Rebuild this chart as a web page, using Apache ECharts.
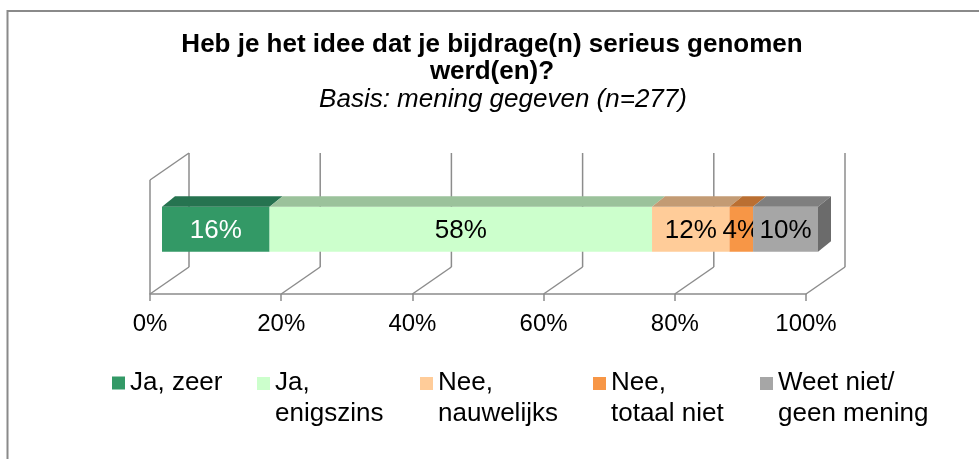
<!DOCTYPE html>
<html>
<head>
<meta charset="utf-8">
<script src="https://cdn.jsdelivr.net/npm/echarts@6/dist/echarts.min.js"></script>
<style>
  html, body { margin: 0; padding: 0; background: #fff; }
  #main { width: 979px; height: 459px; }
</style>
</head>
<body>
<div id="main"></div>
<script>
  // answer categories, in stacking / legend order
  const categories = ['Ja, zeer', 'Ja, enigszins', 'Nee, nauwelijks', 'Nee, totaal niet', 'Weet niet/ geen mening'];
  const legendLabels = ['Ja, zeer', 'Ja,\nenigszins', 'Nee,\nnauwelijks', 'Nee,\ntotaal niet', 'Weet niet/\ngeen mening'];
  // share of respondents in % (n=277)
  const shares = [16.4, 58.3, 11.8, 3.6, 9.9];
  // x axis ticks (%)
  const tickValues = [0, 20, 40, 60, 80, 100];

  // styling
  const FONT = '"Liberation Sans", Arial, sans-serif';
  const frontColors = ['#339966', '#ccffcc', '#ffcc99', '#f79646', '#a6a6a6'];
  const topColors = ['#267350', '#9bc29b', '#c39b74', '#ba6f32', '#7f7f7f'];
  const sideColor = '#6b6b6b';
  const labelColors = ['#fff', '#000', '#000', '#000', '#000'];
  const legendLeft = [112, 257, 420, 593, 760];
  const WALL = '#8c8c8c';

  // 3d projection (pixels)
  const DEPTH = [39, -27];       // floor depth vector
  const BAR_FRONT = [12, -8.3];  // bar front face offset from floor front
  const BAR_DEPTH = [13, -10.5]; // bar thickness
  const BAR_LOW = 0.298, BAR_HIGH = 0.693;

  let myChart = echarts.init(document.getElementById('main'));

  // cumulative stacking
  let starts = [];
  let acc = 0;
  shares.forEach(function (v) { starts.push(acc); acc += v; });

  function seg(a, b) {
    return {
      type: 'line',
      shape: { x1: a[0], y1: a[1], x2: b[0], y2: b[1] },
      style: { stroke: WALL, lineWidth: 1.5 },
    };
  }

  function wallItem(params, api) {
    let v = api.value(0);
    let f0 = api.coord([v, 0]);
    let f1 = api.coord([v, 1]);
    let b0 = [f0[0] + DEPTH[0], f0[1] + DEPTH[1]];
    let b1 = [f1[0] + DEPTH[0], f1[1] + DEPTH[1]];
    let children = [seg(f0, b0), seg(b0, b1)];
    if (params.dataIndex === 0) {
      children.push(seg(f0, f1), seg(f1, b1));
    }
    return { type: 'group', children: children };
  }

  function makeBar(i) {
    return function (params, api) {
      let s = api.coord([api.value(0), BAR_LOW]);
      let e = api.coord([api.value(1), BAR_HIGH]);
      let x0 = s[0] + BAR_FRONT[0], x1 = e[0] + BAR_FRONT[0];
      let yb = s[1] + BAR_FRONT[1], yt = e[1] + BAR_FRONT[1];
      let dx = BAR_DEPTH[0], dy = BAR_DEPTH[1];
      let children = [
        {
          type: 'rect',
          shape: { x: x0, y: yt, width: x1 - x0, height: yb - yt },
          style: { fill: frontColors[i] },
        },
        {
          type: 'polygon',
          shape: { points: [[x0, yt], [x1, yt], [x1 + dx, yt + dy], [x0 + dx, yt + dy]] },
          style: { fill: topColors[i] },
        },
      ];
      if (i === shares.length - 1) {
        children.push({
          type: 'polygon',
          shape: { points: [[x1, yt], [x1 + dx, yt + dy], [x1 + dx, yb + dy], [x1, yb]] },
          style: { fill: sideColor },
        });
      }
      children.push({
        type: 'text',
        x: (x0 + x1) / 2,
        y: (yt + yb) / 2 + 2,
        style: {
          text: Math.round(api.value(2)) + '%',
          fill: labelColors[i],
          fontSize: 26,
          fontFamily: FONT,
          align: 'center',
          verticalAlign: 'middle',
        },
      });
      return { type: 'group', children: children };
    };
  }

  let series = [
    {
      type: 'custom',
      name: 'walls',
      renderItem: wallItem,
      data: tickValues.map(function (v) { return [v]; }),
      z: 1,
      silent: true,
    },
  ];
  categories.forEach(function (name, i) {
    series.push({
      type: 'custom',
      name: name,
      renderItem: makeBar(i),
      data: [[starts[i], starts[i] + shares[i], shares[i]]],
      itemStyle: { color: frontColors[i] },
      z: 2,
    });
  });

  let option = {
    animation: false,
    title: [
      {
        text: 'Heb je het idee dat je bijdrage(n) serieus genomen\nwerd(en)?',
        left: 492,
        top: 31.5,
        textAlign: 'center',
        padding: 0,
        textStyle: { fontFamily: FONT, fontSize: 26, fontWeight: 'bold', color: '#000', lineHeight: 27 },
      },
      {
        text: 'Basis: mening gegeven (n=277)',
        left: 503,
        top: 86.5,
        textAlign: 'center',
        padding: 0,
        textStyle: { fontFamily: FONT, fontSize: 26, fontStyle: 'italic', fontWeight: 'normal', color: '#000', lineHeight: 27 },
      },
    ],
    grid: { left: 150, right: 173, top: 180, bottom: 165 },
    xAxis: {
      type: 'value',
      min: 0,
      max: 100,
      interval: 20,
      axisLine: { show: true, lineStyle: { color: WALL, width: 1.5 } },
      axisTick: { show: true, length: 7, lineStyle: { color: WALL, width: 1.5 } },
      axisLabel: { margin: 18, formatter: '{value}%', fontSize: 24, fontFamily: FONT, color: '#000' },
      splitLine: { show: false },
    },
    yAxis: { type: 'value', min: 0, max: 1, show: false },
    legend: categories.map(function (name, i) {
      let single = i === 0;
      return {
        data: [name],
        left: legendLeft[i],
        top: 367.5,
        padding: 0,
        itemWidth: 13,
        itemHeight: single ? 13 : 60,
        icon: single ? 'rect' : 'path://M0,0M0,60M0,8.5h13v13h-13z',
        formatter: function () { return legendLabels[i]; },
        selectedMode: false,
        textStyle: { fontSize: 26, fontFamily: FONT, color: '#000', lineHeight: 31 },
      };
    }),
    graphic: [
      {
        type: 'rect',
        silent: true,
        z: -1,
        shape: { x: 7.5, y: 11, width: 1100, height: 600 },
        style: { fill: 'none', stroke: '#8a8a8a', lineWidth: 2 },
      },
    ],
    series: series,
  };

  myChart.setOption(option);
</script>
</body>
</html>
